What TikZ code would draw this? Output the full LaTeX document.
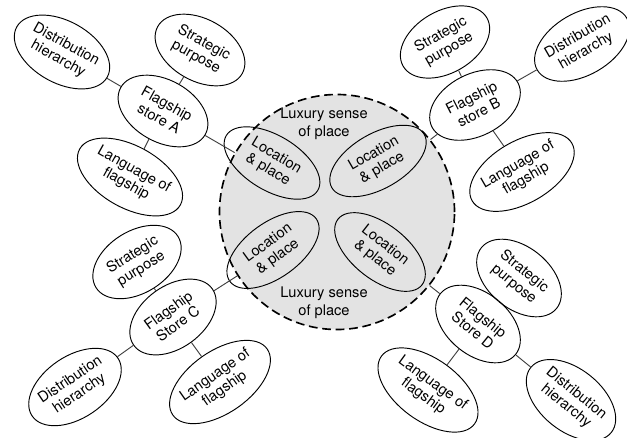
\documentclass[tikz,border=0pt]{standalone}
\usepackage{fontspec}
\setmainfont{TeX Gyre Heros}
\usetikzlibrary{shapes.geometric}
\tikzset{
    bub/.style={draw, ellipse, line width=0.8pt, inner sep=0pt, align=center,
        minimum width=2.9cm, minimum height=1.86cm, font=\fontsize{12.5}{14}\selectfont},
    locbub/.style={bub, minimum width=3.2cm, minimum height=1.65cm},
    link/.style={line width=0.8pt, black!75}
}
\begin{document}
\begin{tikzpicture}[x=0.03cm, y=-0.03cm]
        \useasboundingbox (0, 0) rectangle (627, 437);

        % luxury sense of place
        \node[circle, draw, fill=gray!22, line width=1.4pt, dash pattern=on 7.5pt off 4pt,
            minimum size=7.05cm] (lux) at (337, 212) {};
        \node[align=center, font=\fontsize{12.5}{15}\selectfont] (luxtop) at (324, 124) {Luxury sense\\of place};
        \node[align=center, font=\fontsize{12.5}{15}\selectfont] (luxbot) at (324, 303) {Luxury sense\\of place};

        \node[locbub, rotate=-31] (locA) at (272, 163) {Location\\\& place};
        \node[locbub, rotate=30] (locB) at (378, 161) {Location\\\& place};
        \node[locbub, rotate=36] (locC) at (273, 250) {Location\\\& place};
        \node[locbub, rotate=-38] (locD) at (380, 252) {Location\\\& place};

        % store A
        \node[bub, rotate=-29] (fA) at (163, 111) {Flagship\\store A};
        \node[bub, rotate=-29] (spA) at (200, 50) {Strategic\\purpose};
        \node[bub, rotate=-29] (dhA) at (62, 52) {Distribution\\hierarchy};
        \node[bub, rotate=-29] (lgA) at (130, 177) {Language of\\flagship};

        % store B
        \node[bub, rotate=27] (fB) at (475, 105) {Flagship\\store B};
        \node[bub, rotate=30] (spB) at (445, 42) {Strategic\\purpose};
        \node[bub, rotate=30] (dhB) at (582, 44) {Distribution\\hierarchy};
        \node[bub, rotate=30] (lgB) at (522, 172) {Language of\\flagship};

        % store C
        \node[bub, rotate=36] (fC) at (173, 317) {Flagship\\Store C};
        \node[bub, rotate=32] (spC) at (137, 262) {Strategic\\purpose};
        \node[bub, rotate=34] (dhC) at (75, 387) {Distribution\\hierarchy};
        \node[bub, rotate=35] (lgC) at (220, 382) {Language of\\flagship};

        % store D
        \node[bub, rotate=-39] (fD) at (478, 324) {Flagship\\Store D};
        \node[bub, rotate=-39] (spD) at (519, 278) {Strategic\\purpose};
        \node[bub, rotate=-36] (lgD) at (428, 390) {Language of\\flagship};
        \node[bub, rotate=-39] (dhD) at (571, 400) {Distribution\\hierarchy};

        \foreach \s in {A, B, C, D}{
                \draw[link] (f\s) to (lux);
                \draw[link] (f\s) to (sp\s);
                \draw[link] (f\s) to (dh\s);
                \draw[link] (f\s) to (lg\s);
            }
    \end{tikzpicture}
\end{document}
